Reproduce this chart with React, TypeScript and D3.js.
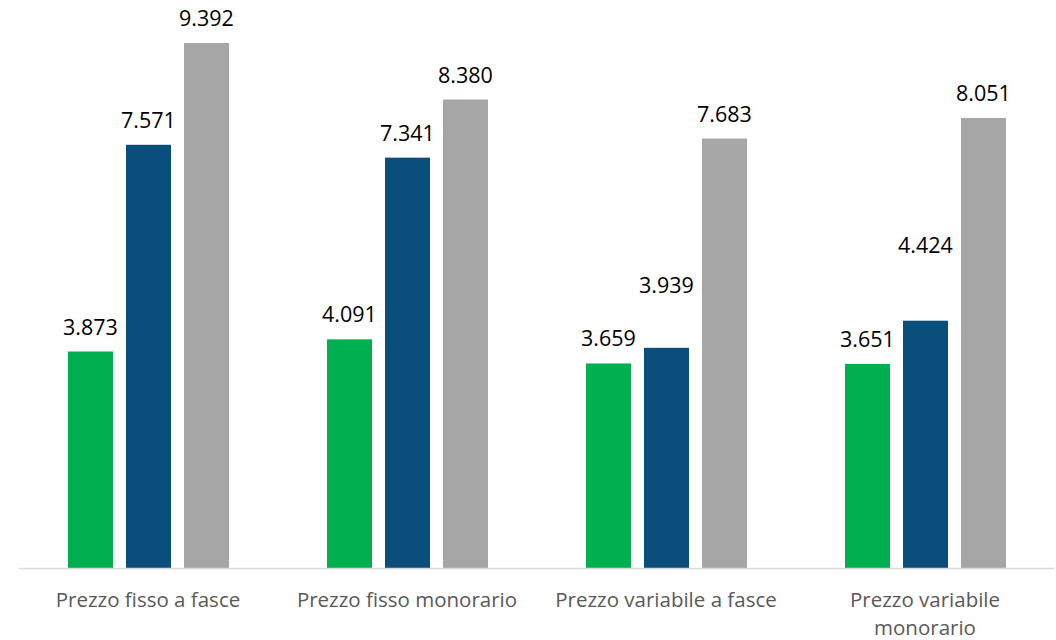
import React, { useEffect, useRef } from "react";
import * as d3 from "d3";

const categories = ["Prezzo fisso a fasce", "Prezzo fisso monorario", "Prezzo variabile a fasce", "Prezzo variabile monorario"];
const seriesNames = ["S1", "S2", "S3"];
const series1 = [3.873, 4.091, 3.659, 3.651];
const series2 = [7.571, 7.341, 3.939, 4.424];
const series3 = [9.392, 8.380, 7.683, 8.051];
// extra upward nudge of value labels (manually moved in the original)
const labelNudge2 = [0, 0, 38, 51];
const colors = ["#00b050", "#0a4f7c", "#a6a6a6"];

const W = 1056, H = 640;
const M = { left: 18.5, right: 1.5, top: 43, bottom: 71 };

export default function App() {
  const ref = useRef<SVGSVGElement>(null);
  useEffect(() => {
    const svg = d3.select(ref.current);
    svg.selectAll("*").remove();
    const values = [series1, series2, series3];
    const nudges = [[0, 0, 0, 0], labelNudge2, [0, 0, 0, 0]];
    const x0 = d3.scaleBand().domain(categories).range([M.left, W - M.right]).paddingInner(0).paddingOuter(0);
    const x1 = d3.scaleBand().domain(seriesNames).range([49.5, 210.5]).paddingInner(0.224).paddingOuter(0);
    const y = d3.scaleLinear().domain([0, 9.392]).range([H - M.bottom - 1, M.top]);
    const fmt = (v: number) => v.toFixed(3);

    const g = svg.append("g");
    categories.forEach((c, i) => {
      seriesNames.forEach((s, j) => {
        const v = values[j][i];
        const bx = (x0(c) as number) + (x1(s) as number);
        g.append("rect").attr("x", bx).attr("y", y(v)).attr("width", x1.bandwidth()).attr("height", y(0) - y(v)).attr("fill", colors[j]);
        g.append("text").attr("x", bx + x1.bandwidth() / 2).attr("y", y(v) - 17 - nudges[j][i])
          .attr("text-anchor", "middle").attr("font-family", "Open Sans").attr("font-size", 21.5).attr("fill", "#000")
          .text(fmt(v));
      });
    });
    svg.append("line").attr("x1", M.left).attr("x2", W - M.right).attr("y1", y(0) + 0.5).attr("y2", y(0) + 0.5)
      .attr("stroke", "#d9d9d9").attr("stroke-width", 1.5);

    categories.forEach((c) => {
      const cx = (x0(c) as number) + x0.bandwidth() / 2;
      const t = svg.append("text").attr("x", cx).attr("y", 607).attr("text-anchor", "middle")
        .attr("font-family", "Open Sans").attr("font-size", 20.5).attr("fill", "#595959");
      const words = c.split(" ");
      let line: string[] = [];
      let ts = t.append("tspan").attr("x", cx).attr("dy", 0);
      for (const w of words) {
        line.push(w);
        ts.text(line.join(" "));
        if ((ts.node() as SVGTSpanElement).getComputedTextLength() > 250 && line.length > 1) {
          line.pop();
          ts.text(line.join(" "));
          line = [w];
          ts = t.append("tspan").attr("x", cx).attr("dy", 28).text(w);
        }
      }
    });
  }, []);
  return <svg ref={ref} width={W} height={H} style={{ position: "absolute", left: 0, top: 0 }} />;
}
